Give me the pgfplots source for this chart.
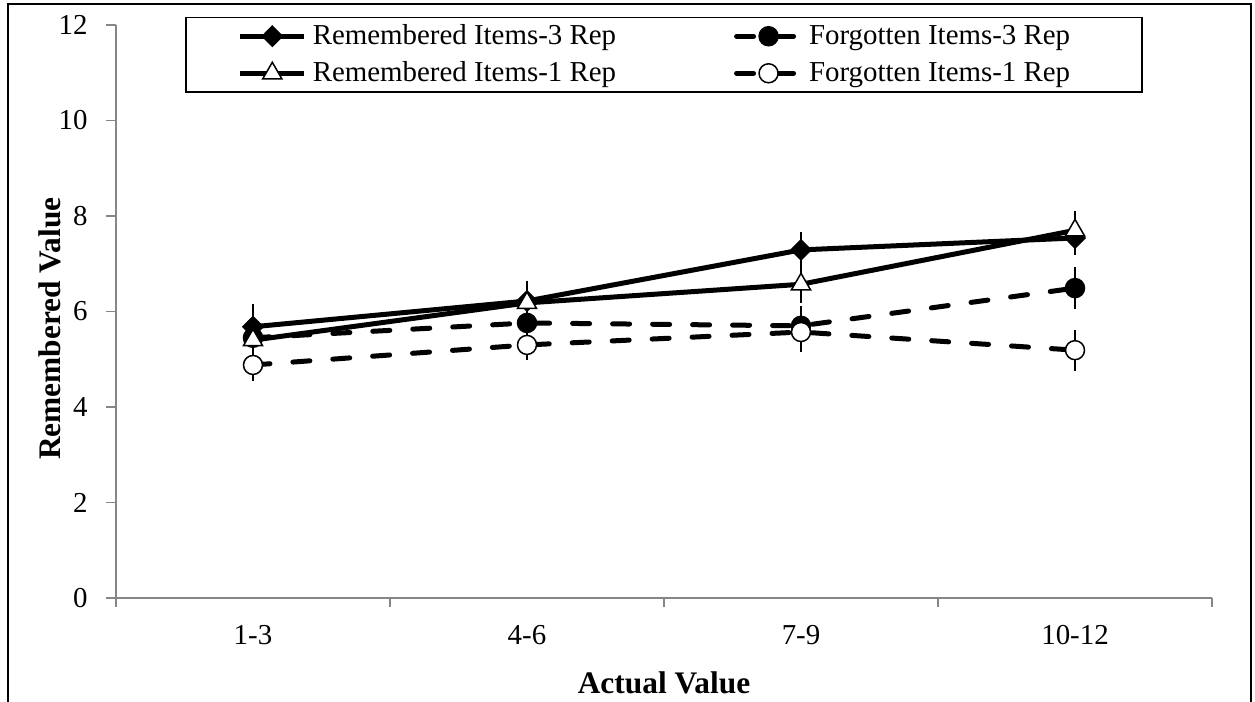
\documentclass[border=0pt]{standalone}
\usepackage{fontspec}
\setmainfont{Liberation Serif}
\usepackage{pgfplots}
\pgfplotsset{compat=1.18}
\usepackage{pgfplotstable}
\definecolor{axisgray}{RGB}{134,134,134}

% mean value per bin and error (+-) for each series
\pgfplotstableread{
x r3   r3e  f3   f3e  r1   r1e  f1   f1e
1 5.68 0.35 5.45 0.30 5.40 0.30 4.88 0.20
2 6.22 0.30 5.76 0.30 6.18 0.33 5.30 0.20
3 7.29 0.25 5.70 0.28 6.57 0.27 5.57 0.29
4 7.54 0.23 6.49 0.31 7.70 0.28 5.19 0.30
}\datatable

\begin{document}
\begin{tikzpicture}
\useasboundingbox (-58bp,-52bp) rectangle (569.5bp,299bp);
\draw[line width=1bp] (-54bp,-60bp) -- (-54bp,297bp) -- (567.5bp,297bp) -- (567.5bp,-60bp);
\begin{axis}[
	scale only axis,
	width=548bp, height=286.5bp,
	xmin=0.5, xmax=4.5,
	ymin=0, ymax=12,
	axis lines*=left,
	axis line style={draw=axisgray, line width=0.75bp, -},
	xtick={1,2,3,4},
	xticklabels={1-3,4-6,7-9,10-12},
	major x tick style={draw=none},
	minor xtick={0.5,1.5,2.5,3.5,4.5},
	ytick={0,2,...,12},
	tick align=outside,
	major tick length=5bp, minor tick length=4.5bp,
	tick style={draw=axisgray, line width=0.75bp},
	/pgf/number format/assume math mode=true,
	ticklabel style={font=\fontsize{14.5}{17}\selectfont},
	yticklabel style={inner xsep=0pt, xshift=-9bp},
	xticklabel style={yshift=-5bp},
	xlabel={Actual Value},
	ylabel={Remembered Value},
	xlabel style={at={(axis description cs:0.5,-0.148)}, anchor=center, font=\bfseries\fontsize{15.75}{18}\selectfont},
	ylabel style={at={(axis description cs:-0.0602,0.47)}, anchor=center, font=\bfseries\fontsize{15.75}{18}\selectfont},
	legend columns=2,
	legend cell align=left,
	legend image code/.code={\draw[mark repeat=2, mark phase=2, #1] plot coordinates {(0bp,0bp) (16bp,0bp) (32bp,0bp)};},
	legend style={
		at={(0.063,1.014)}, anchor=north west,
		draw=black, line width=0.75bp,
		inner xsep=26bp, inner ysep=3.5bp,
		font=\fontsize{14.5}{17}\selectfont,
		nodes={inner sep=0pt},
		row sep=7bp,
		/tikz/every odd column/.append style={column sep=3bp},
		/tikz/every even column/.append style={column sep=59bp},
	},
	error bars/y dir=both,
	error bars/y explicit,
	error bars/error bar style={solid, black, line width=0.75bp},
	error bars/error mark=-,
	error bars/error mark options={solid, black, line width=0.75bp, mark size=3bp, rotate=0},
]
\addplot[black, line width=2.5bp, mark=diamond*, mark size=5bp,
	mark options={solid, xscale=1.33, fill=black, line width=0.75bp}]
	table[x=x, y=r3, y error=r3e] {\datatable};
\addlegendentry{Remembered Items-3 Rep}
\addplot[black, line width=2.5bp, line cap=round, dash pattern=on 8.5bp off 11.5bp,
	mark=*, mark size=4.75bp, mark options={solid, fill=black, line width=0.75bp}]
	table[x=x, y=f3, y error=f3e] {\datatable};
\addlegendentry{Forgotten Items-3 Rep}
\addplot[black, line width=2.5bp, mark=triangle*, mark size=5.5bp,
	mark options={solid, fill=white, line width=0.75bp}]
	table[x=x, y=r1, y error=r1e] {\datatable};
\addlegendentry{Remembered Items-1 Rep}
\addplot[black, line width=2.5bp, line cap=round, dash pattern=on 8.5bp off 11.5bp,
	mark=*, mark size=4.75bp, mark options={solid, fill=white, line width=0.75bp}]
	table[x=x, y=f1, y error=f1e] {\datatable};
\addlegendentry{Forgotten Items-1 Rep\hspace*{10bp}}
\end{axis}
\end{tikzpicture}
\end{document}
